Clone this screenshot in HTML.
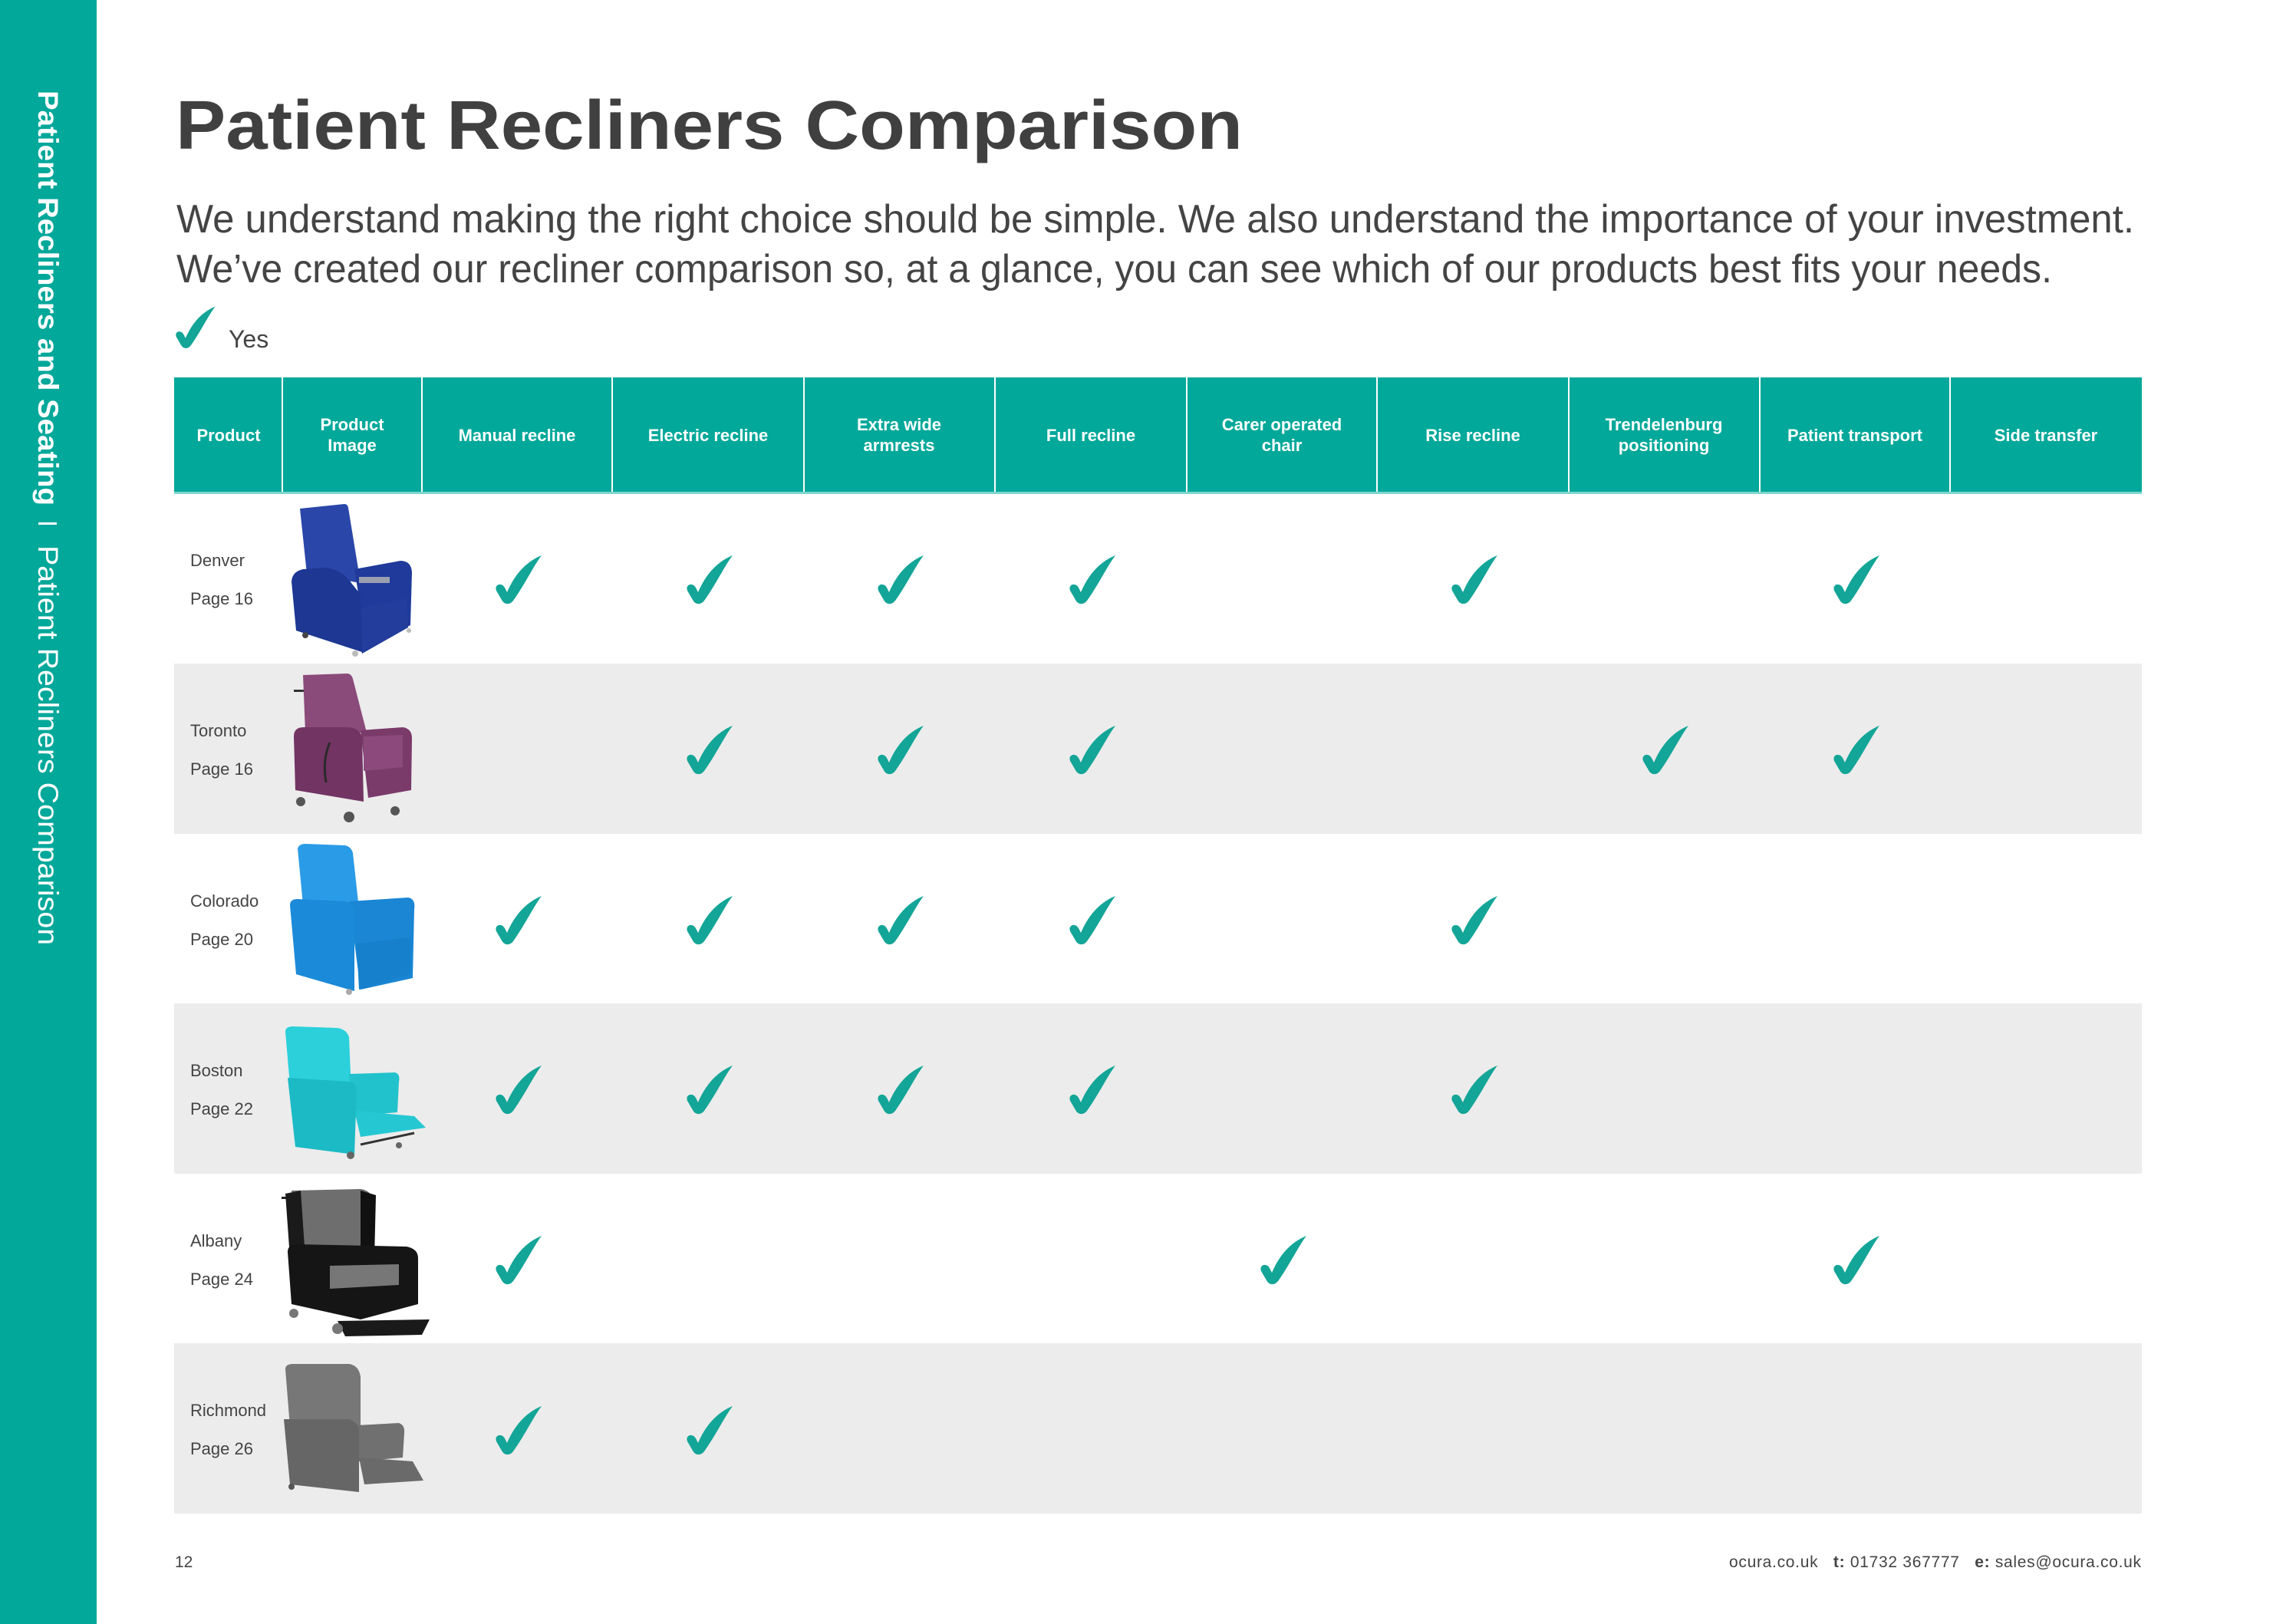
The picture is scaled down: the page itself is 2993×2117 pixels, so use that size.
<!DOCTYPE html>
<html>
<head>
<meta charset="utf-8">
<style>
html,body{margin:0;padding:0;background:#ffffff;}
svg{display:block;}
</style>
</head>
<body>
<svg width="2993" height="2117" viewBox="0 0 2993 2117" xmlns="http://www.w3.org/2000/svg" font-family="'Liberation Sans', Arial, sans-serif">
  <defs>
    <path id="ck" d="M32,-33 C22,-20 10,5 -5,26 Q-9,31 -14,30 Q-18,29 -20,25 L-27,13 Q-29,7 -24,5 Q-19,4 -16,9 L-13,15 C-4,-6 10,-24 32,-33 Z"/>
  </defs>
  <rect x="0" y="0" width="2993" height="2117" fill="#ffffff"/>

  <!-- Sidebar -->
  <rect x="0" y="0" width="126" height="2117" fill="#02a89a"/>
  <text transform="translate(50,118) rotate(90)" font-size="37" font-weight="bold" fill="#ffffff" textLength="541" lengthAdjust="spacingAndGlyphs">Patient Recliners and Seating</text>
  <rect x="50" y="681" width="24" height="3" fill="#ffffff"/>
  <text transform="translate(50,711) rotate(90)" font-size="37" fill="#ffffff" textLength="521" lengthAdjust="spacingAndGlyphs">Patient Recliners Comparison</text>

  <!-- Title -->
  <text x="229" y="194" font-size="90" font-weight="bold" fill="#404040" textLength="1391" lengthAdjust="spacingAndGlyphs">Patient Recliners Comparison</text>

  <!-- Subtitle -->
  <text x="230" y="303" font-size="52" fill="#444444" textLength="2552" lengthAdjust="spacingAndGlyphs">We understand making the right choice should be simple. We also understand the importance of your investment.</text>
  <text x="230" y="368" font-size="52" fill="#444444" textLength="2445" lengthAdjust="spacingAndGlyphs">We’ve created our recliner comparison so, at a glance, you can see which of our products best fits your needs.</text>

  <!-- Legend -->
  <use href="#ck" transform="translate(253,428) scale(0.86)" fill="#13a597"/>
  <text x="298" y="453" font-size="32" fill="#444444">Yes</text>

  <!-- Table rows background -->
  <rect x="227" y="865" width="2565" height="222" fill="#ececec"/>
  <rect x="227" y="1308" width="2565" height="222" fill="#ececec"/>
  <rect x="227" y="1751" width="2565" height="222" fill="#ececec"/>

  <!-- Header -->
  <rect x="227" y="492" width="2565" height="151" fill="#02a89a"/>
  <g fill="#ffffff">
    <rect x="367" y="492" width="2" height="151"/>
    <rect x="549" y="492" width="2" height="151"/>
    <rect x="797" y="492" width="2" height="151"/>
    <rect x="1047" y="492" width="2" height="151"/>
    <rect x="1296" y="492" width="2" height="151"/>
    <rect x="1546" y="492" width="2" height="151"/>
    <rect x="1794" y="492" width="2" height="151"/>
    <rect x="2044" y="492" width="2" height="151"/>
    <rect x="2293" y="492" width="2" height="151"/>
    <rect x="2541" y="492" width="2" height="151"/>
  </g>
  <rect x="227" y="641" width="2565" height="3" fill="#7fd6cd"/>
  <g font-size="22" font-weight="bold" fill="#ffffff" text-anchor="middle">
    <text x="298" y="575">Product</text>
    <text x="459" y="561">Product</text>
    <text x="459" y="588">Image</text>
    <text x="674" y="575">Manual recline</text>
    <text x="923" y="575">Electric recline</text>
    <text x="1172" y="561">Extra wide</text>
    <text x="1172" y="588">armrests</text>
    <text x="1422" y="575">Full recline</text>
    <text x="1671" y="561">Carer operated</text>
    <text x="1671" y="588">chair</text>
    <text x="1920" y="575">Rise recline</text>
    <text x="2169" y="561">Trendelenburg</text>
    <text x="2169" y="588">positioning</text>
    <text x="2418" y="575">Patient transport</text>
    <text x="2667" y="575">Side transfer</text>
  </g>

  <!-- Row labels -->
  <g font-size="22" fill="#444444">
    <text x="248" y="738">Denver</text>
    <text x="248" y="788">Page 16</text>
    <text x="248" y="960">Toronto</text>
    <text x="248" y="1010">Page 16</text>
    <text x="248" y="1182">Colorado</text>
    <text x="248" y="1232">Page 20</text>
    <text x="248" y="1403">Boston</text>
    <text x="248" y="1453">Page 22</text>
    <text x="248" y="1625">Albany</text>
    <text x="248" y="1675">Page 24</text>
    <text x="248" y="1846">Richmond</text>
    <text x="248" y="1896">Page 26</text>
  </g>

  <!-- Chairs -->
  <!-- Denver -->
  <g>
    <path d="M391,663 L449,657 Q453,657 454,662 L470,760 L400,748 Z" fill="#2a46a8"/>
    <path d="M462,742 L522,731 Q536,731 537,746 L535,815 L478,842 Z" fill="#1f3a9a"/>
    <path d="M458,795 L530,780 L532,818 L472,852 Z" fill="#223d9c"/>
    <path d="M380,758 Q381,745 395,742 L425,740 Q448,744 458,760 L470,775 L472,850 L386,822 Z" fill="#1d3793"/>
    <rect x="468" y="752" width="40" height="8" fill="#9aa0b0"/>
    <circle cx="398" cy="828" r="4" fill="#444"/>
    <circle cx="463" cy="852" r="4" fill="#bbb"/>
    <circle cx="533" cy="822" r="3" fill="#bbb"/>
  </g>
  <!-- Toronto -->
  <g>
    <rect x="383" y="899" width="22" height="3" fill="#333"/>
    <path d="M395,880 L452,878 Q458,878 460,885 L478,955 L398,955 Z" fill="#8a4a7a"/>
    <path d="M470,952 L525,948 Q537,950 537,962 L536,1030 L480,1040 Z" fill="#7a3a6a"/>
    <path d="M474,960 L525,958 L525,1000 L474,1005 Z" fill="#8b4a7b"/>
    <path d="M383,960 Q383,948 396,948 L455,948 Q470,950 472,962 L474,1045 L385,1030 Z" fill="#723463"/>
    <path d="M430,968 Q420,990 425,1020" stroke="#2a2a2a" stroke-width="3" fill="none"/>
    <circle cx="392" cy="1045" r="6" fill="#555"/>
    <circle cx="455" cy="1065" r="7" fill="#555"/>
    <circle cx="515" cy="1057" r="6" fill="#555"/>
  </g>
  <!-- Colorado -->
  <g>
    <path d="M388,1106 Q390,1100 398,1100 L450,1102 Q458,1104 460,1112 L468,1185 L395,1180 Z" fill="#2a9be6"/>
    <path d="M455,1175 L532,1170 Q542,1172 540,1185 L538,1275 L470,1290 Z" fill="#1a86d4"/>
    <path d="M465,1230 L535,1222 L535,1270 L468,1290 Z" fill="#1680cc"/>
    <path d="M378,1180 Q378,1172 388,1172 L450,1175 Q462,1178 462,1190 L462,1292 L386,1270 Z" fill="#1b8ad8"/>
    <circle cx="455" cy="1293" r="4" fill="#aaa"/>
  </g>
  <!-- Boston -->
  <g>
    <path d="M372,1345 Q372,1338 382,1338 L440,1340 Q452,1342 455,1352 L458,1425 L378,1415 Z" fill="#2bd0da"/>
    <path d="M455,1400 L515,1398 Q522,1400 520,1410 L518,1450 L460,1455 Z" fill="#22c2cc"/>
    <path d="M462,1448 L540,1455 L555,1470 L470,1482 Z" fill="#25c8d2"/>
    <path d="M375,1405 L455,1410 Q465,1412 465,1420 L462,1505 L385,1495 Z" fill="#1bbac5"/>
    <line x1="470" y1="1492" x2="540" y2="1477" stroke="#333" stroke-width="3"/>
    <circle cx="457" cy="1506" r="5" fill="#666"/>
    <circle cx="520" cy="1493" r="4" fill="#666"/>
  </g>
  <!-- Albany -->
  <g>
    <rect x="367" y="1560" width="22" height="3" fill="#222"/>
    <path d="M380,1552 L470,1550 Q485,1552 485,1565 L480,1640 L385,1640 Z" fill="#6e6e6e"/>
    <path d="M372,1556 L392,1552 L398,1640 L378,1640 Z" fill="#1a1a1a"/>
    <path d="M470,1552 L490,1558 L488,1640 L470,1640 Z" fill="#111"/>
    <path d="M375,1632 Q375,1622 388,1622 L530,1625 Q545,1628 545,1640 L545,1700 L470,1720 L380,1700 Z" fill="#151515"/>
    <path d="M430,1650 L520,1648 L520,1675 L430,1680 Z" fill="#777"/>
    <path d="M440,1722 L560,1720 L550,1740 L450,1742 Z" fill="#1a1a1a"/>
    <circle cx="383" cy="1712" r="6" fill="#777"/>
    <circle cx="440" cy="1732" r="7" fill="#777"/>
  </g>
  <!-- Richmond -->
  <g>
    <path d="M372,1785 Q372,1778 382,1778 L455,1778 Q468,1780 470,1795 L470,1870 L378,1860 Z" fill="#777777"/>
    <path d="M465,1858 L520,1855 Q528,1858 527,1868 L525,1900 L468,1905 Z" fill="#707070"/>
    <path d="M468,1900 L538,1905 L552,1930 L475,1935 Z" fill="#6a6a6a"/>
    <path d="M370,1850 L455,1850 Q468,1855 468,1865 L468,1945 L378,1935 Z" fill="#666666"/>
    <circle cx="380" cy="1938" r="4" fill="#555"/>
  </g>

  <!-- Checkmarks -->
  <g fill="#13a597">
    <!-- Row 1 Denver: cols 1,2,3,4,6,8 -->
    <use href="#ck" transform="translate(674,757)"/>
    <use href="#ck" transform="translate(923,757)"/>
    <use href="#ck" transform="translate(1172,757)"/>
    <use href="#ck" transform="translate(1422,757)"/>
    <use href="#ck" transform="translate(1920,757)"/>
    <use href="#ck" transform="translate(2418,757)"/>
    <!-- Row 2 Toronto: cols 2,3,4,7,8 -->
    <use href="#ck" transform="translate(923,979)"/>
    <use href="#ck" transform="translate(1172,979)"/>
    <use href="#ck" transform="translate(1422,979)"/>
    <use href="#ck" transform="translate(2169,979)"/>
    <use href="#ck" transform="translate(2418,979)"/>
    <!-- Row 3 Colorado: cols 1,2,3,4,6 -->
    <use href="#ck" transform="translate(674,1201)"/>
    <use href="#ck" transform="translate(923,1201)"/>
    <use href="#ck" transform="translate(1172,1201)"/>
    <use href="#ck" transform="translate(1422,1201)"/>
    <use href="#ck" transform="translate(1920,1201)"/>
    <!-- Row 4 Boston: cols 1,2,3,4,6 -->
    <use href="#ck" transform="translate(674,1422)"/>
    <use href="#ck" transform="translate(923,1422)"/>
    <use href="#ck" transform="translate(1172,1422)"/>
    <use href="#ck" transform="translate(1422,1422)"/>
    <use href="#ck" transform="translate(1920,1422)"/>
    <!-- Row 5 Albany: cols 1,5,8 -->
    <use href="#ck" transform="translate(674,1644)"/>
    <use href="#ck" transform="translate(1671,1644)"/>
    <use href="#ck" transform="translate(2418,1644)"/>
    <!-- Row 6 Richmond: cols 1,2 -->
    <use href="#ck" transform="translate(674,1866)"/>
    <use href="#ck" transform="translate(923,1866)"/>
  </g>

  <!-- Footer -->
  <text x="228" y="2043" font-size="21" fill="#444444">12</text>
  <text x="2254" y="2043" font-size="21" fill="#444444" xml:space="preserve" textLength="537" lengthAdjust="spacing">ocura.co.uk   <tspan font-weight="bold">t:</tspan> 01732 367777   <tspan font-weight="bold">e:</tspan> sales@ocura.co.uk</text>
</svg>
</body>
</html>
